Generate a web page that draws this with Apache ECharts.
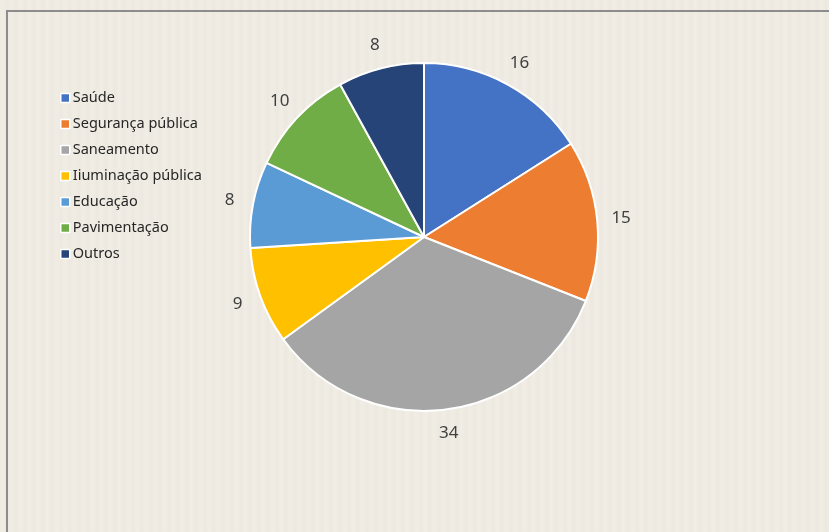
<!DOCTYPE html>
<html>
<head>
<meta charset="utf-8">
<script src="https://cdn.jsdelivr.net/npm/echarts@6/dist/echarts.min.js"></script>
<style>
  html, body { margin: 0; padding: 0; }
  body {
    width: 829px; height: 532px; overflow: hidden;
    background-color: #efebe2;
    background-image: repeating-linear-gradient(90deg,
      rgba(255,255,255,0.0) 0px, rgba(255,255,255,0.10) 2px,
      rgba(0,0,0,0.0) 5px, rgba(0,0,0,0.012) 7px, rgba(255,255,255,0.0) 9px);
  }
  #chart { width: 829px; height: 532px; }
</style>
</head>
<body>
<div id="chart"></div>
<script>
// Categories and their shares
const categories = ['Saúde', 'Segurança pública', 'Saneamento', 'Iiuminação pública', 'Educação', 'Pavimentação', 'Outros'];
const values = [16, 15, 34, 9, 8, 10, 8];
const colors = ['#4472C4', '#ED7D31', '#A5A5A5', '#FFC000', '#5B9BD5', '#70AD47', '#264478'];

const pieData = categories.map((name, i) => ({ name, value: values[i] }));

const chart = echarts.init(document.getElementById('chart'), null, { renderer: 'canvas' });

const center = [424, 237];

chart.setOption({
  animation: false,
  backgroundColor: 'transparent',
  color: colors,
  graphic: [{
    type: 'rect',
    shape: { x: 7, y: 11, width: 900, height: 600 },
    style: { fill: 'none', stroke: '#8c8c8c', lineWidth: 2 },
    silent: true
  }],
  legend: {
    orient: 'vertical',
    left: 55,
    top: 85,
    itemWidth: 9,
    itemHeight: 9,
    itemGap: 10,
    icon: 'rect',
    itemStyle: { borderColor: '#ffffff', borderWidth: 1.5 },
    textStyle: { fontFamily: 'Noto Sans', fontSize: 14.5, color: '#262626', lineHeight: 16, padding: [0, 0, 0, -2] },
    data: categories
  },
  series: [
    {
      type: 'pie',
      center: center,
      radius: [0, 174],
      startAngle: 90,
      clockwise: true,
      avoidLabelOverlap: false,
      itemStyle: { borderColor: '#ffffff', borderWidth: 2 },
      label: { show: false },
      labelLine: { show: false },
      emphasis: { disabled: true },
      data: pieData
    },
    {
      // transparent ring used only to place the value labels around the pie
      type: 'pie',
      center: center,
      radius: [0, 390],
      startAngle: 90,
      clockwise: true,
      silent: true,
      avoidLabelOverlap: false,
      legendHoverLink: false,
      itemStyle: { color: 'transparent', borderWidth: 0 },
      label: {
        show: true,
        position: 'inside',
        formatter: '{c}',
        fontFamily: 'Noto Sans',
        fontSize: 17,
        color: '#404040',
        padding: [6, 0, 0, 0]
      },
      labelLine: { show: false },
      emphasis: { disabled: true },
      data: pieData
    }
  ]
});
</script>
</body>
</html>
